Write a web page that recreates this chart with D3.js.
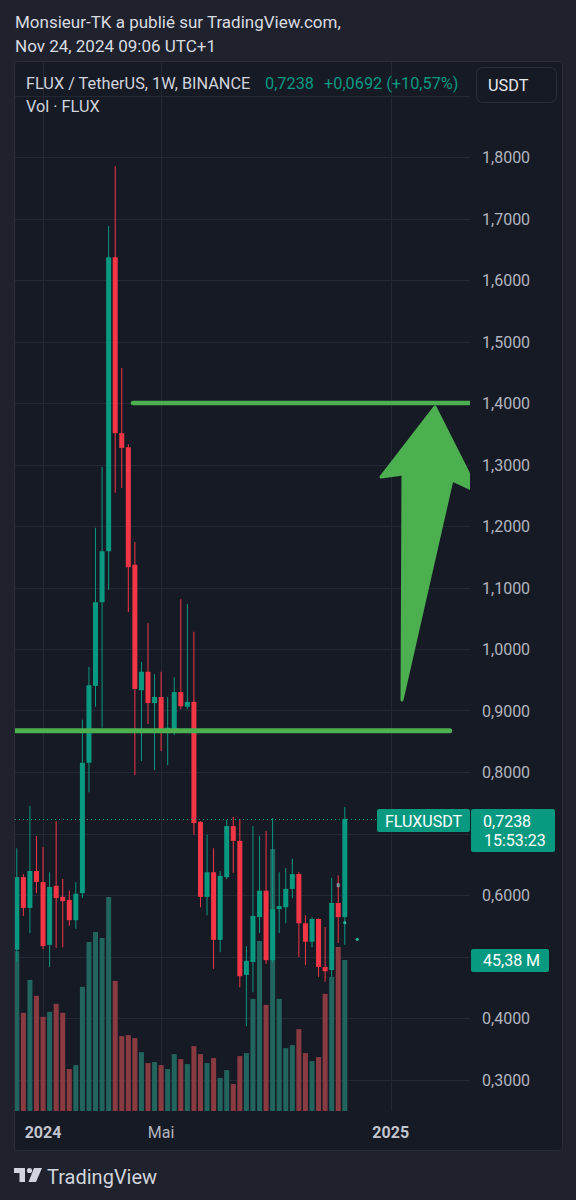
<!DOCTYPE html>
<html><head><meta charset="utf-8">
<script src="https://cdn.jsdelivr.net/npm/d3@7"></script>
<style>
html,body{margin:0;padding:0;background:#1f222c;}
svg{display:block;font-family:Roboto,"Noto Sans",sans-serif;}
</style></head>
<body>
<svg id="c" width="576" height="1200"></svg>
<script>
// ---- data (weekly candles, FLUX/USDT, Dec 2023 – Nov 2024) ----
const opens  = [0.511,0.629,0.579,0.639,0.621,0.519,0.615,0.597,0.592,0.559,0.603,0.815,0.940,1.076,1.159,1.637,1.351,1.328,1.137,0.933,0.963,0.912,0.922,0.868,0.868,0.930,0.906,0.914,0.719,0.597,0.637,0.527,0.629,0.712,0.688,0.470,0.491,0.564,0.607,0.494,0.577,0.580,0.610,0.634,0.554,0.524,0.561,0.483,0.478,0.587,0.564];
const highs  = [0.676,0.634,0.745,0.696,0.678,0.637,0.720,0.626,0.607,0.621,0.885,0.971,1.197,1.296,1.688,1.785,1.457,1.333,1.174,0.979,1.042,0.959,0.963,0.922,0.954,1.081,1.073,1.028,0.720,0.698,0.676,0.639,0.722,0.727,0.724,0.517,0.712,0.696,0.704,0.725,0.637,0.644,0.659,0.637,0.567,0.564,0.562,0.548,0.628,0.632,0.743];
const lows   = [0.491,0.566,0.538,0.603,0.512,0.483,0.514,0.515,0.550,0.545,0.595,0.767,0.906,0.872,1.096,1.254,1.262,1.060,0.795,0.818,0.878,0.803,0.834,0.811,0.860,0.902,0.902,0.698,0.580,0.567,0.480,0.507,0.626,0.636,0.450,0.387,0.442,0.538,0.488,0.490,0.538,0.554,0.595,0.499,0.486,0.515,0.467,0.459,0.467,0.522,0.519];
const closes = [0.629,0.579,0.639,0.621,0.517,0.613,0.595,0.590,0.559,0.602,0.815,0.941,1.076,1.159,1.637,1.351,1.327,1.133,0.935,0.963,0.912,0.922,0.868,0.872,0.930,0.907,0.914,0.717,0.597,0.637,0.527,0.631,0.712,0.688,0.468,0.493,0.566,0.607,0.494,0.577,0.582,0.610,0.634,0.554,0.524,0.561,0.483,0.476,0.587,0.564,0.7238];
const volumes= [48.0,29.5,39.4,34.6,28.3,29.8,32.2,29.5,12.6,13.8,37.3,50.8,53.8,52.0,64.3,39.1,22.5,22.8,21.9,17.7,14.4,14.7,13.8,12.6,17.1,15.6,14.1,19.5,17.1,14.4,15.9,9.9,12.3,8.1,16.5,17.4,33.7,51.1,31.9,78.7,33.7,18.9,19.8,24.6,17.4,15.0,16.2,35.2,40.3,49.3,45.38]; // millions
const timeTickIdx = [4, 22, 57];
const timeTickLabels = ["2024", "Mai", "2025"];
const timeTickBold = [true, false, true];
const priceTicks = [1.8,1.7,1.6,1.5,1.4,1.3,1.2,1.1,1.0,0.9,0.8,0.6,0.4,0.3];
const gridTicks = [0.3,0.4,0.5,0.6,0.7,0.8,0.9,1.0,1.1,1.2,1.3,1.4,1.5,1.6,1.7,1.8,1.9];
const lastPrice = 0.7238;
const lastVolume = 45.38;
// drawings [index, price]
const resistLine = [[17.7, 1.40], [75, 1.40]];
const supportLine = [[-5, 0.867], [66.0, 0.867]];
const arrowPts = [[63.75,1.3935],[70.3,1.2553],[66.34,1.2748],[58.72,0.9171],[58.87,1.2846],[55.52,1.2797]];

// ---- layout ----
const svg = d3.select("#c");
const W = 576, H = 1200;
const pane = {x:14.5, y:61.5, w:548, h:1089};
const plot = {l:15, r:470, t:62, b:1111};
const UP = "#089981", DN = "#f23645";
const VUP = "#22645e", VDN = "#8a3b41";

const x = d3.scaleLinear().domain([0, 50]).range([16.8, 344.8]);
const y = d3.scaleLinear().domain([0.3, 1.8]).range([1079.5, 157]);
const vy = d3.scaleLinear().domain([0, 45.38]).range([1111, 960]);
const fmt = v => d3.format(".4f")(v).replace(".", ",");

svg.append("rect").attr("width", W).attr("height", H).attr("fill", "#1f222c");
svg.append("rect").attr("x", pane.x).attr("y", pane.y).attr("width", pane.w).attr("height", pane.h)
  .attr("rx", 3).attr("fill", "#161a25").attr("stroke", "#2a2e39").attr("stroke-width", 1);

const defs = svg.append("defs");
defs.append("clipPath").attr("id", "clip").append("rect")
  .attr("x", plot.l).attr("y", plot.t).attr("width", plot.r - plot.l).attr("height", plot.b - plot.t);

// grid
const grid = svg.append("g").attr("stroke", "#242834").attr("stroke-width", 1);
grid.selectAll("line.h").data(gridTicks).join("line")
  .attr("x1", plot.l).attr("x2", plot.r)
  .attr("y1", d => Math.round(y(d)) + 0.5).attr("y2", d => Math.round(y(d)) + 0.5);
grid.selectAll("line.v").data(timeTickIdx).join("line")
  .attr("x1", d => Math.round(x(d)) + 0.5).attr("x2", d => Math.round(x(d)) + 0.5)
  .attr("y1", plot.t).attr("y2", plot.b);

const g = svg.append("g").attr("clip-path", "url(#clip)");
const idx = d3.range(opens.length);

// volume
g.append("g").selectAll("rect").data(idx).join("rect")
  .attr("x", i => x(i) - 2.5).attr("width", 5)
  .attr("y", i => vy(volumes[i])).attr("height", i => vy(0) - vy(volumes[i]))
  .attr("fill", i => closes[i] >= opens[i] ? VUP : VDN);

// candles
const cg = g.append("g");
cg.selectAll("line").data(idx).join("line")
  .attr("x1", i => x(i)).attr("x2", i => x(i))
  .attr("y1", i => y(highs[i])).attr("y2", i => y(lows[i]))
  .attr("stroke", i => closes[i] >= opens[i] ? UP : DN).attr("stroke-width", 1);
cg.selectAll("rect").data(idx).join("rect")
  .attr("x", i => x(i) - 2.5).attr("width", 5)
  .attr("y", i => y(Math.max(opens[i], closes[i])))
  .attr("height", i => Math.max(1.5, Math.abs(y(opens[i]) - y(closes[i]))))
  .attr("fill", i => closes[i] >= opens[i] ? UP : DN);

// small markers
g.append("rect").attr("x", x(49) - 1.5).attr("y", y(0.616) - 2).attr("width", 3).attr("height", 4).attr("fill", "#8a8d96");
g.append("circle").attr("cx", x(50)).attr("cy", y(0.555)).attr("r", 1.6).attr("fill", "#2bb59a");
g.append("circle").attr("cx", x(51.9)).attr("cy", y(0.528)).attr("r", 1.6).attr("fill", "#2bb59a");

// drawings
const line = d3.line().x(d => x(d[0])).y(d => y(d[1]));
g.append("path").attr("d", line(resistLine)).attr("stroke", "#4caf50").attr("stroke-width", 4.5)
  .attr("stroke-linecap", "round").attr("fill", "none");
g.append("path").attr("d", line(supportLine)).attr("stroke", "#4caf50").attr("stroke-width", 5)
  .attr("stroke-linecap", "round").attr("fill", "none");
g.append("path").attr("d", line(arrowPts) + "Z").attr("fill", "#4caf50")
  .attr("stroke", "#4caf50").attr("stroke-width", 3).attr("stroke-linejoin", "round");

// last price dotted line
svg.append("line").attr("x1", plot.l).attr("x2", 377).attr("y1", Math.round(y(lastPrice)) + 0.5).attr("y2", Math.round(y(lastPrice)) + 0.5)
  .attr("stroke", UP).attr("stroke-width", 1).attr("stroke-dasharray", "1 3");

// price axis labels
svg.append("g").selectAll("text").data(priceTicks).join("text")
  .attr("x", 482).attr("y", d => y(d) + 6).text(fmt)
  .attr("font-size", 16).attr("fill", "#b2b5be");

// last price labels
svg.append("rect").attr("x", 377).attr("y", 809).attr("width", 93).attr("height", 23).attr("rx", 2).attr("fill", UP);
svg.append("text").attr("x", 423.5).attr("y", 826.5).attr("text-anchor", "middle").attr("font-size", 16).attr("fill", "#fff").text("FLUXUSDT");
svg.append("rect").attr("x", 471).attr("y", 809).attr("width", 84).attr("height", 43).attr("rx", 2).attr("fill", UP);
svg.append("text").attr("x", 483).attr("y", 826.5).attr("font-size", 16).attr("fill", "#fff").text(fmt(lastPrice));
svg.append("text").attr("x", 484).attr("y", 846).attr("font-size", 16).attr("fill", "#fff").text("15:53:23");
svg.append("rect").attr("x", 471).attr("y", vy(lastVolume) - 11).attr("width", 78).attr("height", 23).attr("rx", 2).attr("fill", UP);
svg.append("text").attr("x", 483).attr("y", vy(lastVolume) + 6).attr("font-size", 16).attr("fill", "#fff").text(d3.format(".2f")(lastVolume).replace(".", ",") + " M");

// time axis
svg.append("g").selectAll("text").data(timeTickIdx).join("text")
  .attr("x", d => x(d)).attr("y", 1138).attr("text-anchor", "middle")
  .attr("font-size", 16).attr("font-weight", (d, i) => timeTickBold[i] ? 700 : 400)
  .attr("fill", (d, i) => timeTickBold[i] ? "#c3c6ce" : "#b2b5be")
  .text((d, i) => timeTickLabels[i]);

// header
svg.append("text").attr("x", 15).attr("y", 28).attr("font-size", 17).attr("fill", "#d9dbe0").text("Monsieur-TK a publié sur TradingView.com,");
svg.append("text").attr("x", 15).attr("y", 52).attr("font-size", 17).attr("fill", "#d9dbe0").text("Nov 24, 2024 09:06 UTC+1");
const h1 = svg.append("text").attr("x", 26).attr("y", 89).attr("font-size", 16.3);
h1.append("tspan").attr("fill", "#d1d4dc").text("FLUX / TetherUS, 1W, BINANCE");
h1.append("tspan").attr("x", 265).attr("fill", UP).text("0,7238");
h1.append("tspan").attr("x", 324).attr("fill", UP).text("+0,0692 (+10,57%)");
svg.append("text").attr("x", 26).attr("y", 112).attr("font-size", 16.3).attr("fill", "#d1d4dc").text("Vol · FLUX");
svg.append("rect").attr("x", 476.5).attr("y", 67.5).attr("width", 80).attr("height", 35).attr("rx", 6)
  .attr("fill", "#161a25").attr("stroke", "#2a2e39");
svg.append("text").attr("x", 488).attr("y", 91).attr("font-size", 16.3).attr("fill", "#e6e8ec").text("USDT");

// footer logo
const logo = svg.append("g").attr("fill", "#d1d4dc");
logo.append("path").attr("d", "M14,1168 H25 V1182 H19.5 V1173 H14 Z");
logo.append("circle").attr("cx", 29.5).attr("cy", 1170.5).attr("r", 2.6);
logo.append("path").attr("d", "M34,1168 H42 L36,1182 H28.5 Z");
svg.append("text").attr("x", 47).attr("y", 1184).attr("font-size", 20).attr("fill", "#d1d4dc").text("TradingView");
</script>
</body></html>
